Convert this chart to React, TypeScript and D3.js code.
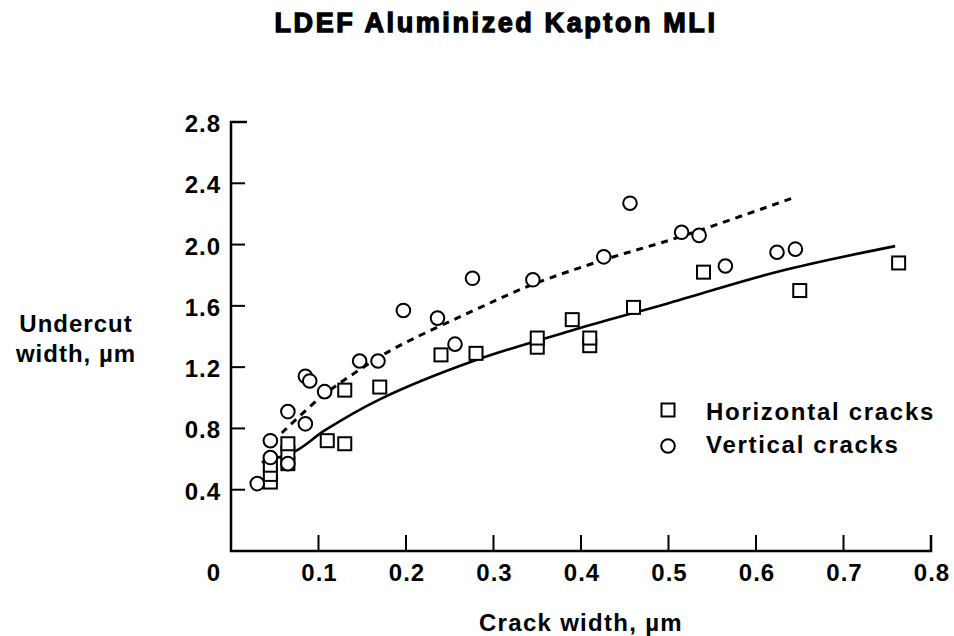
import React from "react";
import * as d3 from "d3";

// Horizontal cracks (squares): [crack width, undercut width] in µm
const horizontalCracks: [number, number][] = [
  [0.045, 0.45], [0.045, 0.5], [0.045, 0.56],
  [0.065, 0.57], [0.065, 0.64], [0.065, 0.7],
  [0.11, 0.72], [0.13, 0.7], [0.13, 1.05], [0.17, 1.07],
  [0.24, 1.28], [0.28, 1.29], [0.35, 1.33], [0.35, 1.39],
  [0.39, 1.51], [0.41, 1.34], [0.41, 1.39], [0.46, 1.59],
  [0.54, 1.82], [0.65, 1.7], [0.763, 1.88],
];

// Vertical cracks (circles)
const verticalCracks: [number, number][] = [
  [0.03, 0.44], [0.045, 0.61], [0.045, 0.72], [0.065, 0.57],
  [0.065, 0.91], [0.085, 0.83], [0.085, 1.14], [0.09, 1.11],
  [0.107, 1.04], [0.147, 1.24], [0.168, 1.24], [0.197, 1.57],
  [0.236, 1.52], [0.256, 1.35], [0.276, 1.78], [0.345, 1.77],
  [0.426, 1.92], [0.456, 2.27], [0.515, 2.08], [0.535, 2.06],
  [0.565, 1.86], [0.624, 1.95], [0.645, 1.97],
];

// Fitted curves
const horizontalFit: [number, number][] = [
  [0.035, 0.58], [0.073, 0.65], [0.108, 0.79], [0.17, 0.99],
  [0.277, 1.24], [0.399, 1.455], [0.498, 1.614], [0.627, 1.826], [0.759, 1.99],
];
const verticalFit: [number, number][] = [
  [0.058, 0.77], [0.102, 1.0], [0.147, 1.183], [0.186, 1.32],
  [0.285, 1.59], [0.345, 1.74], [0.426, 1.9], [0.513, 2.05], [0.645, 2.31],
];

const xTicks = [0, 0.1, 0.2, 0.3, 0.4, 0.5, 0.6, 0.7, 0.8];
const yTicks = [0.4, 0.8, 1.2, 1.6, 2.0, 2.4, 2.8];

const font = "'Liberation Sans', Arial, Helvetica, sans-serif";

export default function App() {
  const width = 954;
  const height = 636;
  const x = d3.scaleLinear().domain([0, 0.8]).range([231, 931]);
  const y = d3.scaleLinear().domain([0, 2.8]).range([551, 122]);
  const line = d3
    .line<[number, number]>()
    .x((d) => x(d[0]))
    .y((d) => y(d[1]))
    .curve(d3.curveCatmullRom);

  const sq = 13;
  const r = 6.8;

  return (
    <svg
      width={width}
      height={height}
      style={{ position: "absolute", left: 0, top: 0, background: "#fff" }}
      fontFamily={font}
      fontWeight="bold"
    >
      <rect width={width} height={height} fill="#fff" />
      <text
        x={496}
        y={32}
        textAnchor="middle"
        fontSize={27}
        fontWeight={900}
        letterSpacing={2.6}
        stroke="#000"
        strokeWidth={1.3}
      >
        LDEF Aluminized Kapton MLI
      </text>

      {/* axes */}
      <path
        d={`M${x(0) + 16},${y(2.8)}H${x(0)}V${y(0)}H${x(0.8)}V${y(0) - 16}`}
        fill="none"
        stroke="#000"
        strokeWidth={2.5}
      />
      {yTicks.slice(0, -1).map((t) => (
        <line key={t} x1={x(0)} x2={x(0) + 14} y1={y(t)} y2={y(t)} stroke="#000" strokeWidth={2} />
      ))}
      {xTicks.slice(1, -1).map((t) => (
        <line key={t} x1={x(t)} x2={x(t)} y1={y(0)} y2={y(0) - 16} stroke="#000" strokeWidth={2} />
      ))}
      {yTicks.map((t) => (
        <text key={t} x={221} y={y(t) + 10} textAnchor="end" fontSize={24} letterSpacing={1}>
          {t.toFixed(1)}
        </text>
      ))}
      <text x={220} y={y(0) + 30} textAnchor="end" fontSize={24}>0</text>
      {xTicks.slice(1).map((t) => (
        <text key={t} x={x(t) + 1} y={y(0) + 30} textAnchor="middle" fontSize={24} letterSpacing={1}>
          {t.toFixed(1)}
        </text>
      ))}

      <text x={581} y={631} textAnchor="middle" fontSize={24} letterSpacing={1.3}>
        Crack width, µm
      </text>
      <text x={76} y={332} textAnchor="middle" fontSize={24} letterSpacing={1}>
        Undercut
      </text>
      <text x={76} y={362} textAnchor="middle" fontSize={24} letterSpacing={1}>
        width, µm
      </text>

      {/* fit curves */}
      <path d={line(horizontalFit) ?? ""} fill="none" stroke="#000" strokeWidth={2.6} />
      <path
        d={line(verticalFit) ?? ""}
        fill="none"
        stroke="#000"
        strokeWidth={3}
        strokeDasharray="7 6"
      />

      {/* markers */}
      {horizontalCracks.map((d, i) => (
        <rect
          key={"h" + i}
          x={x(d[0]) - sq / 2}
          y={y(d[1]) - sq / 2}
          width={sq}
          height={sq}
          fill="#fff"
          stroke="#000"
          strokeWidth={2}
        />
      ))}
      {verticalCracks.map((d, i) => (
        <circle
          key={"v" + i}
          cx={x(d[0])}
          cy={y(d[1])}
          r={r}
          fill="#fff"
          stroke="#000"
          strokeWidth={2}
        />
      ))}

      {/* legend */}
      <rect x={668 - sq / 2} y={410 - sq / 2} width={sq} height={sq} fill="#fff" stroke="#000" strokeWidth={2} />
      <circle cx={668} cy={446} r={r} fill="#fff" stroke="#000" strokeWidth={2} />
      <text x={706} y={420} fontSize={24} letterSpacing={1.7}>Horizontal cracks</text>
      <text x={706} y={453} fontSize={24} letterSpacing={1.7}>Vertical cracks</text>
    </svg>
  );
}
